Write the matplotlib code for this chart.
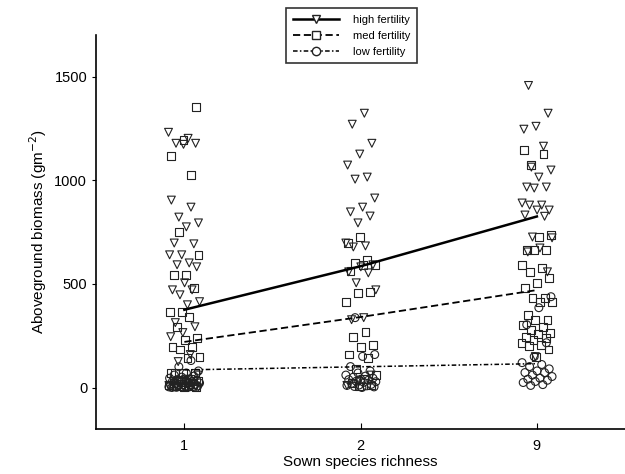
import numpy as np
import matplotlib.pyplot as plt

plt.rcParams['font.family'] = ['Liberation Sans', 'DejaVu Sans']

# sown richness levels (plotted as categories)
richness = ['1', '2', '9']

# biomass per plot (g m-2)
high_1 = [1231, 1202, 1178, 1178, 1173, 904, 870, 822, 794, 775, 697, 693, 640, 640,
          601, 592, 582, 505, 471, 471, 447, 414, 399, 313, 293, 265, 245, 159, 125,
          60, 40, 30, 20, 15, 10, 8, 5, 3, 0]
med_1 = [1352, 1193, 1116, 1025, 750, 640, 543, 543, 481, 366, 366, 342, 293, 240, 231,
         197, 197, 183, 149, 144, 72, 72, 72, 72, 40, 35, 30, 25, 20, 18, 15, 10, 8, 5,
         3, 0]
low_1 = [130, 100, 80, 70, 60, 55, 50, 45, 40, 38, 35, 33, 30, 28, 25, 22, 20, 18, 15,
         14, 12, 10, 9, 8, 6, 5, 5, 4, 3, 2, 1, 0, 0, 0]

high_2 = [1323, 1270, 1178, 1126, 1073, 1015, 1005, 914, 870, 847, 827, 794, 697, 683,
          678, 592, 582, 558, 553, 505, 471, 337, 327, 60, 30, 10]
med_2 = [726, 697, 616, 600, 592, 592, 560, 462, 457, 414, 269, 245, 207, 197, 159, 144,
         90, 60, 40, 20, 10, 5]
low_2 = [337, 159, 150, 101, 80, 70, 60, 55, 50, 45, 40, 38, 35, 30, 28, 25, 20, 15, 12,
         10, 8, 5, 3, 0]

high_3 = [1457, 1323, 1260, 1246, 1164, 1063, 1049, 1015, 967, 967, 962, 890, 880, 880,
          856, 856, 832, 826, 726, 722, 673, 654, 558, 149]
med_3 = [1145, 1126, 1073, 736, 726, 664, 664, 664, 592, 577, 558, 529, 505, 481, 433,
         433, 414, 414, 351, 327, 327, 300, 293, 279, 264, 260, 245, 240, 231, 216, 207,
         200, 183, 149]
low_3 = [438, 385, 303, 216, 149, 120, 111, 101, 90, 80, 72, 72, 60, 53, 45, 40, 35, 29,
         24, 14, 10]

# treatment means (regression lines)
high_mean = [375, 585, 825]
med_mean = [220, 340, 470]
low_mean = [85, 100, 115]


def jitter(n, seed_shift, width=0.09):
    # deterministic spread around the category position (golden-ratio sequence)
    k = np.arange(n) + seed_shift
    frac = (k * 0.6180339887) % 1.0
    return (frac * 2 - 1) * width


fig = plt.figure(figsize=(6.25, 4.74), dpi=100)
ax = fig.add_axes([0.154, 0.095, 0.846, 0.831])

groups = [
    ([high_1, high_2, high_3], 'v', high_mean, '-', 1.8, 'high fertility'),
    ([med_1, med_2, med_3], 's', med_mean, (0, (4, 2)), 1.3, 'med fertility'),
    ([low_1, low_2, low_3], 'o', low_mean, (0, (3, 1.5, 1, 1.5)), 1.1, 'low fertility'),
]

for g, (data, marker, means, ls, lw, label) in enumerate(groups):
    for i, vals in enumerate(data):
        xs = i + 1 + jitter(len(vals), 3 * g + i)
        ax.scatter(xs, vals, marker=marker, s=32, facecolors='none',
                   edgecolors='#222222', linewidths=0.8, zorder=2)

handles = []
for data, marker, means, ls, lw, label in groups:
    ax.plot([1, 2, 3], means, color='black', linestyle=ls, linewidth=lw, zorder=3)
    h, = ax.plot([], [], color='black', linestyle=ls, linewidth=lw, marker=marker,
                 markersize=6, markerfacecolor='white', markeredgecolor='#222222',
                 label=label)
    handles.append(h)

ax.set_xlim(0.5, 3.5)
ax.set_ylim(-200, 1700)
ax.set_xticks([1, 2, 3])
ax.set_xticklabels(richness)
ax.set_yticks([0, 500, 1000, 1500])
ax.tick_params(axis='x', direction='in', length=4, labelsize=10.5, pad=7)
ax.tick_params(axis='y', direction='out', length=3, labelsize=10.5)
ax.spines['top'].set_visible(False)
ax.spines['right'].set_visible(False)
ax.spines['left'].set_linewidth(1.2)
ax.spines['bottom'].set_linewidth(1.2)

ax.set_xlabel('Sown species richness', fontsize=11, labelpad=2)
ax.set_ylabel('Aboveground biomass (gm$^{-2}$)', fontsize=11)

leg = fig.legend(handles=handles, loc='upper center', bbox_to_anchor=(0.562, 0.995),
                 fontsize=8, frameon=True, fancybox=False, handlelength=4.2,
                 borderpad=0.6, labelspacing=0.55, handletextpad=1.2)
leg.get_frame().set_edgecolor('black')
leg.get_frame().set_linewidth(1.2)

fig.savefig('out.png', dpi=100)
